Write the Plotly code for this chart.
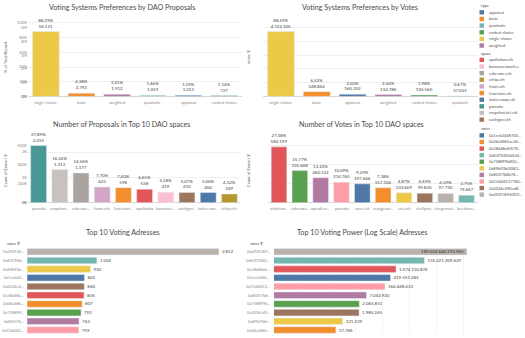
import plotly.graph_objects as go

W, H = 525, 338

# ---------------- data ----------------
prop_sys = ["single-choice", "basic", "weighted", "quadratic", "approval", "ranked-choice"]
prop_sys_pct = [88.29, 4.38, 3.01, 1.66, 1.59, 1.14]
prop_sys_cnt = [56121, 2793, 1912, 1059, 1013, 727]

vote_sys = ["single-choice", "basic", "approval", "weighted", "ranked-choice", "quadratic"]
vote_sys_pct = [88.59, 6.52, 3.00, 2.44, 1.98, 0.67]
vote_sys_cnt = [4722105, 348844, 160352, 134786, 105560, 37055]

type_names = ["approval", "basic", "quadratic", "ranked-choice", "single-choice", "weighted"]
type_colors = ["#4E79A7", "#F28E2B", "#76B7B2", "#59A14F", "#EDC948", "#B07AA1"]

space_names = ["apollodao.eth", "bancornetwork.e", "cakevote.eth", "ethip.eth", "frami.eth",
               "fuxvision.eth", "index-coop.eth", "pancake", "snapshot.dcl.eth", "sushigov.eth"]
space_colors = ["#E15759", "#FABFD2", "#ABA3A0", "#B6992D", "#D4A6C8",
                "#F28E2B", "#4E79A7", "#499894", "#C9C1BD", "#9D7660"]

prop_spaces = ["pancake", "snapshot.dcl.eth", "cakevote.eth", "frami.eth", "fuxvision.eth",
               "apollodao.eth", "bancornetwork.e", "sushigov.eth", "index-coop.eth", "ethip.eth"]
prop_space_ticks = ["pancake", "snapshot...", "cakevote...", "frami.eth", "fuxvision...",
                    "apollodao", "bancorne...", "sushigov...", "index-coo...", "ethip.eth"]
prop_space_pct = [27.89, 16.24, 14.56, 7.70, 7.40, 6.65, 5.18, 5.07, 5.00, 4.32]
prop_space_cnt = [2255, 1313, 1177, 623, 598, 538, 419, 410, 404, 349]

vote_spaces = ["arbitrum...", "cakevota...", "opcollect...", "pancake", "aave.eth",
               "sexagenar...", "ens.eth", "shellprot...", "thegunsot...", "beethove..."]
vote_space_colors = ["#E15759", "#59A14F", "#B07AA1", "#FF9DA7", "#4E79A7",
                     "#F28E2B", "#EDC948", "#9C755F", "#BAB0AC", "#76B7B2"]
vote_space_pct = [27.38, 15.77, 12.22, 10.09, 9.29, 7.38, 4.87, 4.69, 4.59, 3.75]
vote_space_cnt = [582199, 335668, 260122, 214760, 197646, 157106, 103609, 99820, 97730, 79667]

voter_ids = ["0x1ccb2448700", "0x06c4865ae26c", "0x38d48a6f578", "0x83C9440d634", "0x758899b810",
             "0x89b93bf2083", "0x801f7b8b76", "0xC5446C37780", "0x0034e690ed8", "0xd92936963D3"]
voter_colors = ["#4E79A7", "#F28E2B", "#E15759", "#76B7B2", "#59A14F",
                "#EDC948", "#B07AA1", "#FF9DA7", "#9C755F", "#BAB0AC"]

top_votes_voter = ["0xd92936963D3", "0x83C9440d634", "0x89b93bf2083", "0x1ccb2448700", "0x0034e690ed8",
                   "0x38d48a6f578", "0x06c4865ae26c", "0x758899b810", "0x801f7b8b76", "0xC5446C37780"]
top_votes_cnt = [2812, 1024, 930, 842, 840, 836, 807, 792, 763, 759]

top_power_voter = ["0xd92936963D3", "0x83C9440d634", "0x38d48a6f578", "0x1ccb2448700", "0xC5446C37780",
                   "0x801f7b8b76", "0x758899b810", "0x0034e690ed8", "0x89b93bf2083", "0x06c4865ae26c"]
top_power_val = [189034646193965, 135221309629, 1074110876, 419553282, 164448433,
                 7042920, 2065851, 1985245, 121239, 37766]

# ---------------- helpers ----------------
FONT = "Lato, 'Open Sans', sans-serif"
TXT = "#555555"
TITLE = "#4a4a4a"
TICK = "#8a8a8a"
SMALL = 4.4
TINY = 4.0


def fx(px):
    return px / W


def fy(py):
    return 1 - py / H


def eu_int(n):
    return f"{n:,}".replace(",", ".")


def eu_pct(p):
    return f"{p:.2f}%".replace(".", ",")


vcolor = dict(zip(voter_ids, voter_colors))
scolor = dict(zip(space_names, space_colors))
tcolor = dict(zip(type_names, type_colors))

fig = go.Figure()

bar_txt = dict(size=SMALL, color="#444", family=FONT)

fig.add_trace(go.Bar(
    x=prop_sys, y=prop_sys_pct, marker_color=[tcolor[c] for c in prop_sys],
    text=[f"{eu_pct(p)}<br>{eu_int(c)}" for p, c in zip(prop_sys_pct, prop_sys_cnt)],
    textposition="outside", cliponaxis=False, constraintext="none",
    textfont=bar_txt, xaxis="x", yaxis="y"))
fig.add_trace(go.Bar(
    x=vote_sys, y=vote_sys_cnt, marker_color=[tcolor[c] for c in vote_sys],
    text=[f"{eu_pct(p)}<br>{eu_int(c)}" for p, c in zip(vote_sys_pct, vote_sys_cnt)],
    textposition="outside", cliponaxis=False, constraintext="none",
    textfont=bar_txt, xaxis="x2", yaxis="y2"))
fig.add_trace(go.Bar(
    x=prop_spaces, y=prop_space_cnt, marker_color=[scolor[c] for c in prop_spaces],
    text=[f"{eu_pct(p)}<br>{eu_int(c)}" for p, c in zip(prop_space_pct, prop_space_cnt)],
    textposition="outside", cliponaxis=False, constraintext="none",
    textfont=bar_txt, xaxis="x3", yaxis="y3"))
fig.add_trace(go.Bar(
    x=vote_spaces, y=vote_space_cnt, marker_color=vote_space_colors,
    text=[f"{eu_pct(p)}<br>{eu_int(c)}" for p, c in zip(vote_space_pct, vote_space_cnt)],
    textposition="outside", cliponaxis=False, constraintext="none",
    textfont=bar_txt, xaxis="x4", yaxis="y4"))
fig.add_trace(go.Bar(
    y=top_votes_voter, x=top_votes_cnt, orientation="h",
    marker_color=[vcolor[v] for v in top_votes_voter],
    text=[eu_int(c) for c in top_votes_cnt],
    textposition="outside", cliponaxis=False, constraintext="none",
    textfont=bar_txt, xaxis="x5", yaxis="y5"))
fig.add_trace(go.Bar(
    y=top_power_voter, x=top_power_val, orientation="h",
    marker_color=[vcolor[v] for v in top_power_voter],
    text=[eu_int(c) for c in top_power_val],
    textposition=["inside"] + ["outside"] * (len(top_power_val) - 1),
    insidetextanchor="end", cliponaxis=False, constraintext="none",
    textfont=bar_txt,
    insidetextfont=dict(size=SMALL, color="#333", family=FONT),
    outsidetextfont=bar_txt,
    xaxis="x6", yaxis="y6"))

grid = "#efefef"
tickfont = dict(size=TINY, color=TICK, family=FONT)


def cat_x(dom):
    return dict(domain=[fx(dom[0]), fx(dom[1])], type="category", showgrid=False, ticks="",
                showticklabels=False, showline=False, zeroline=False, fixedrange=True)


def val_y(dom, rng, vals, txts):
    return dict(domain=[fy(dom[1]), fy(dom[0])], range=rng, tickvals=vals, ticktext=txts,
                gridcolor=grid, zeroline=True, zerolinecolor="#d8d8d8", zerolinewidth=1,
                tickfont=tickfont, ticks="", fixedrange=True)


def row_y(dom):
    return dict(domain=[fy(dom[1]), fy(dom[0])], type="category", autorange="reversed",
                showticklabels=False, ticks="", showgrid=False, fixedrange=True)


layout = dict(
    width=W, height=H, margin=dict(l=0, r=0, t=0, b=0),
    paper_bgcolor="white", plot_bgcolor="white", showlegend=False,
    font=dict(family=FONT, color=TXT, size=SMALL),
    bargap=0.25,
    xaxis=cat_x((28, 242)),
    yaxis=val_y((18, 97), [0, 106.8], [0, 20, 40, 60, 80, 100],
                ["0%", "20%", "40%", "60%", "80%", "100%"]),
    xaxis2=cat_x((263, 478)),
    yaxis2=val_y((18, 97), [0, 5.72e6], [0, 1e6, 2e6, 3e6, 4e6, 5e6],
                 ["0M", "1M", "2M", "3M", "4M", "5M"]),
    xaxis3=cat_x((28, 240)),
    yaxis3=val_y((138, 204), [0, 2588], [0, 1000, 2000], ["0K", "1K", "2K"]),
    xaxis4=cat_x((268, 478)),
    yaxis4=val_y((138, 204), [0, 683000], [0, 2e5, 4e5, 6e5], ["0K", "200K", "400K", "600K"]),
    xaxis5=dict(domain=[fx(27), fx(242)], range=[0, 3150], showticklabels=False, showgrid=False,
                zeroline=False, ticks="", fixedrange=True),
    yaxis5=row_y((248.7, 336.5)),
    xaxis6=dict(domain=[fx(274), fx(478)], type="log", range=[0, 15.1], showticklabels=False,
                showgrid=True, gridcolor="#f4f4f4", dtick=2, zeroline=False, ticks="", fixedrange=True),
    yaxis6=row_y((248.7, 336.5)),
)
fig.update_layout(**layout)

ann = []
shapes = []


def text(x, y, s, size=SMALL, color=TXT, anchor="center", angle=0, xref="paper", yref="paper"):
    ann.append(dict(x=fx(x) if xref == "paper" else x, y=fy(y) if yref == "paper" else y,
                    xref=xref, yref=yref, text=s, showarrow=False,
                    xanchor=anchor, yanchor="middle", textangle=angle,
                    font=dict(size=size, color=color, family=FONT)))


# titles
text(122, 8, "Voting Systems Preferences by DAO Proposals", size=7.2, color=TITLE)
text(360, 8, "Voting Systems Preferences by Votes", size=7.2, color=TITLE)
text(121, 125, "Number of Proposals in Top 10 DAO spaces", size=7.2, color=TITLE)
text(361, 125, "Number of Votes in Top 10 DAO spaces", size=7.2, color=TITLE)
text(123, 234, "Top 10 Voting Adresses", size=7.2, color=TITLE)
text(362, 234, "Top 10 Voting Power (Log Scale) Adresses", size=7.2, color=TITLE)

# axis titles
text(6, 58, "% of Total Record", size=TINY, angle=-90, color="#555")
text(249, 57, "votes ⊽", size=TINY, angle=-90, color="#555")
text(6, 172, "Count of Extract ⊽", size=TINY, angle=-90, color="#555")
text(249, 172, "Count of Extract ⊽", size=TINY, angle=-90, color="#555")
text(5, 245, "voter ⊽", size=TINY, anchor="left", color="#444")
text(248, 245, "voter ⊽", size=TINY, anchor="left", color="#444")

# category labels placed through the axes' own category scales
for c in prop_sys:
    text(c, 103, c, size=TINY, color=TICK, xref="x")
for c in vote_sys:
    text(c, 103, c, size=TINY, color=TICK, xref="x2")
for c, t in zip(prop_spaces, prop_space_ticks):
    text(c, 210, t, size=TINY, color=TICK, xref="x3")
for c in vote_spaces:
    text(c, 210, c, size=TINY, color=TICK, xref="x4")
# row labels: category index positions on the row axes
for i, v in enumerate(top_votes_voter):
    text(26, i, v[:8] + "...", size=TINY, color=TICK, anchor="right", yref="y5")
for i, v in enumerate(top_power_voter):
    text(272, i, v[:9] + "...", size=TINY, color=TICK, anchor="right", yref="y6")


# legends
def legend(title, y0, names, colors, step):
    text(479, y0, title, size=TINY, anchor="left", color="#444")
    for i, (n, c) in enumerate(zip(names, colors)):
        yc = y0 + 6.7 + step * i
        shapes.append(dict(type="rect", xref="paper", yref="paper",
                           x0=fx(479.5), x1=fx(484), y0=fy(yc + 2.2), y1=fy(yc - 2.2),
                           fillcolor=c, line=dict(width=0)))
        text(486.5, yc, n, size=TINY, anchor="left", color="#555")


legend("type", 5.7, type_names, type_colors, 6.68)
legend("space", 53.5, space_names, space_colors, 6.68)
legend("voter", 129.5, [v[:13] + "..." for v in voter_ids], voter_colors, 6.62)

fig.update_layout(annotations=ann, shapes=shapes)
fig.write_html("out.html")
